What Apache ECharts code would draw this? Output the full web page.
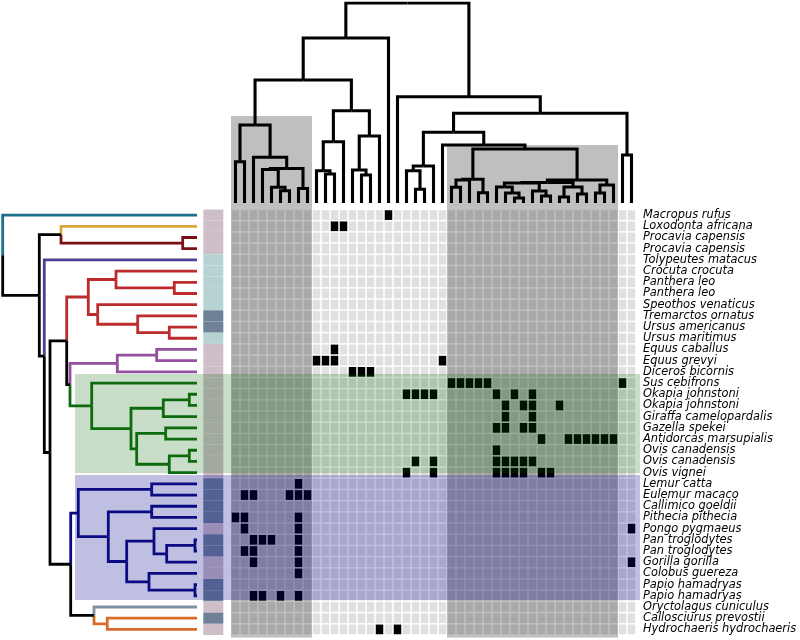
<!DOCTYPE html>
<html><head><meta charset="utf-8">
<script src="https://cdn.jsdelivr.net/npm/echarts@6/dist/echarts.min.js"></script>
<style>html,body{margin:0;padding:0;background:#fff}#c{width:800px;height:640px}</style>
</head><body><div id="c"></div>
<script>
// ---------------- DATA ----------------
const species = ["Macropus rufus","Loxodonta africana","Procavia capensis","Procavia capensis","Tolypeutes matacus","Crocuta crocuta","Panthera leo","Panthera leo","Speothos venaticus","Tremarctos ornatus","Ursus americanus","Ursus maritimus","Equus caballus","Equus grevyi","Diceros bicornis","Sus cebifrons","Okapia johnstoni","Okapia johnstoni","Giraffa camelopardalis","Gazella spekei","Antidorcas marsupialis","Ovis canadensis","Ovis canadensis","Ovis vignei","Lemur catta","Eulemur macaco","Callimico goeldii","Pithecia pithecia","Pongo pygmaeus","Pan troglodytes","Pan troglodytes","Gorilla gorilla","Colobus guereza","Papio hamadryas","Papio hamadryas","Oryctolagus cuniculus","Callosciurus prevostii","Hydrochaeris hydrochaeris"];
const traitCount = 45;
// columns (0-based) with value 1, per row
const presentCols = [
  [17],[11,12],[],[],[],[],[],[],[],[],[],[],
  [11],[9,10,11,23],[13,14,15],
  [24,25,26,27,28,43],[19,20,21,22,29,31,33],[30,32,33,36],[30,33],[29,30,32,33],
  [34,37,38,39,40,41,42],[29],[20,22,29,30,31,32,33],[19,22,29,30,31,32,34,35],
  [7],[1,2,6,7,8],[],[0,1,7],[1,7,44],[2,3,4,7],[1,2,7],[2,7,44],[7],[],[2,3,5,7],
  [],[],[16,18]
];
// side colour bar group per row: p / t / s
const rowBarGroup = ['p','p','p','p','t','t','t','t','t','s','s','t','p','p','p',
  'p','p','p','p','p','p','p','p','p','s','s','s','s','p','s','s','p','p','s','s','p','s','p'];
// dendrogram cluster per row (left tree colouring)
const rowCluster = [0,1,2,2,3,4,4,4,4,4,4,4,5,5,5,6,6,6,6,6,6,6,6,6,7,7,7,7,7,7,7,7,7,7,7,8,9,9];
// column dendrogram merges: [a, b, height]; numbers are leaves, 'mK' is merge K
const topMerges = [
  [5,6,12.3],[4,'m1',15.7],[7,8,14.5],[3,'m2',33.5],['m4','m3',34.5],[2,'m5',45.7],
  [0,1,41.3],['m7','m6',78],[10,11,29],[9,'m9',32.3],['m10',12,61.3],[14,15,28],
  [13,'m12',33],['m13',16,67],['m11','m14',92.3],['m8','m15',123],['m16',17,165],
  [20,21,13.7],[19,'m18',32.3],['m19',22,37],[24,25,15.7],['m21',26,23],[27,28,10.3],
  ['m22','m23',23.7],[31,32,5],[30,'m25',10],[29,'m26',16],[34,35,7],[33,'m28',12],
  ['m27','m29',20],[36,37,6],[38,39,9],['m31','m32',16],['m30','m33',20.5],[40,41,10],
  ['m35',42,18],['m34','m36',23],['m24','m37',54],[23,'m38',58],['m20','m39',70.7],
  [43,44,48],['m40','m41',89.7],[18,'m42',106.3],['m17','m43',200]
];
// row dendrogram merges
const leftMerges = [
  [2,3,14.3],[1,'m1',136],[6,7,22.7],[5,'m3',81],[10,11,27.7],[9,'m5',59.3],[8,'m6',99.3],
  ['m4','m7',108.7],[12,13,40.3],['m9',14,79.7],[16,17,7.7],['m11',18,33.7],[19,20,31.3],
  [21,22,7.7],['m14',23,27.7],['m13','m15',60.3],['m12','m16',66],[15,'m17',105.3],
  ['m10','m18',127],['m8','m19',130.3],[24,25,45.3],[26,27,45.3],[29,30,2],['m23',31,30.3],
  [28,'m24',43],[33,34,2],[32,'m26',48],['m25','m27',70.3],['m22','m28',88.7],
  ['m21','m29',118.7],[36,37,89.7],[35,'m31',103],['m30','m32',126.3],['m20','m33',147],
  [4,'m34',152.7],['m2','m35',157.7],[0,'m36',194.3]
];
// highlighted column groups: [firstCol, lastCol, boxTopHeight]
const grayBoxes = [[0,8,87],[24,42,58]];
// highlighted row bands (row-edge units): [top, bottom]
const bandRows = [[14.7,23.56],[23.71,34.88]];

// ---------------- STYLE ----------------
const clusterColors = ['#1d6f8e','#dba63a','#7a1014','#4d3f95','#bd2b2d','#944f9f','#0d6a0d','#0a0a82','#7f91a2','#d56c2a'];
const barColors = {p:'#cdbec7', t:'#b6d3d4', s:'#6f8196'};
const bandColors = ['rgba(0,100,0,0.21)','rgba(0,0,139,0.25)'];
const MAIN_TOP = 209.5, MAIN_H = 425.5, MAIN_BOTTOM = MAIN_TOP + MAIN_H;

// ---------------- BUILD ----------------
const cellData = [];
for (let r = 0; r < species.length; r++)
  for (let c = 0; c < traitCount; c++)
    cellData.push([c, r, presentCols[r].includes(c) ? 1 : 0]);

function buildSegments(merges, leafCluster, colors, leavesOnX) {
  const nodes = [];
  const ref = x => typeof x === 'number'
    ? {p: x, h: 0, c: leafCluster ? leafCluster[x] : -1}
    : nodes[+x.slice(1) - 1];
  const segs = [];
  merges.forEach(([a, b, H]) => {
    const A = ref(a), B = ref(b);
    const P = (A.p + B.p) / 2;
    [A, B].forEach(ch => {
      const color = ch.c >= 0 ? colors[ch.c] : '#000';
      const coords = leavesOnX
        ? [[ch.p, ch.h], [ch.p, H], [P, H]]
        : [[ch.h, ch.p], [H, ch.p], [H, P]];
      segs.push({coords, lineStyle: {color}});
    });
    nodes.push({p: P, h: H, c: A.c === B.c ? A.c : -1});
  });
  return segs;
}
const topSegs = buildSegments(topMerges, null, clusterColors, true);
const leftSegs = buildSegments(leftMerges, rowCluster, clusterColors, false);

const chart = echarts.init(document.getElementById('c'), null, {renderer: 'canvas', width: 800, height: 640});
chart.setOption({
  animation: false,
  backgroundColor: '#fff',
  grid: [
    {left: 231, top: MAIN_TOP, width: 405, height: MAIN_H},
    {left: 231, top: 3, width: 405, height: 200},
    {left: 2.7, top: MAIN_TOP, width: 194.3, height: MAIN_H}
  ],
  xAxis: [
    {gridIndex: 0, type: 'category', data: Array.from({length: traitCount}, (_, i) => 'T' + i), show: false},
    {gridIndex: 1, type: 'value', min: -0.5, max: traitCount - 0.5, show: false},
    {gridIndex: 2, type: 'value', min: 0, max: 194.3, inverse: true, show: false}
  ],
  yAxis: [
    {gridIndex: 0, type: 'category', data: species.map((_, i) => 'R' + i), inverse: true, position: 'right',
     axisLine: {show: false}, axisTick: {show: false}, splitLine: {show: false},
     axisLabel: {interval: 0, margin: 7, formatter: (v, i) => species[i], fontStyle: 'italic',
       fontFamily: 'DejaVu Sans', fontSize: 11.4, color: '#000'}},
    {gridIndex: 1, type: 'value', min: 0, max: 200, show: false},
    {gridIndex: 2, type: 'value', min: -0.5, max: species.length - 0.5, inverse: true, show: false}
  ],
  series: [
    {type: 'custom', xAxisIndex: 0, yAxisIndex: 0, z: 1, silent: true, clip: false,
     data: cellData,
     renderItem: (params, api) => {
       const p = api.coord([api.value(0), api.value(1)]);
       const s = api.size([1, 1]);
       return {type: 'rect', shape: {x: p[0] - s[0] / 2 + 0.75, y: p[1] - s[1] / 2 + 0.75, width: s[0] - 1.5, height: s[1] - 1.5},
         style: {fill: api.value(2) ? '#000' : '#e0e0e0'}};
     }},
    {type: 'custom', xAxisIndex: 0, yAxisIndex: 0, z: 1, silent: true, clip: false,
     data: species.map((_, r) => [0, r]),
     renderItem: (params, api) => {
       const r = api.value(1);
       const p = api.coord([0, r]);
       const s = api.size([1, 1]);
       return {type: 'rect', shape: {x: 203.3, y: p[1] - s[1] / 2, width: 20, height: s[1]},
         style: {fill: barColors[rowBarGroup[r]]}};
     }},
    {type: 'custom', xAxisIndex: 1, yAxisIndex: 1, z: 2, silent: true, clip: false,
     data: grayBoxes.map(b => [b[0], b[2], b[1]]),
     encode: {x: [0, 2], y: 1},
     renderItem: (params, api) => {
       const p0 = api.coord([api.value(0) - 0.5, api.value(1)]);
       const p1 = api.coord([api.value(2) + 0.5, 0]);
       return {type: 'rect', shape: {x: p0[0], y: p0[1], width: p1[0] - p0[0], height: MAIN_BOTTOM + 2.5 - p0[1]},
         style: {fill: 'rgba(0,0,0,0.25)'}};
     }},
    {type: 'custom', xAxisIndex: 2, yAxisIndex: 2, z: 3, silent: true, clip: false,
     data: bandRows.map((b, i) => [0, b[0], b[1], i]),
     encode: {x: 0, y: [1, 2]},
     renderItem: (params, api) => {
       const y0 = api.coord([0, api.value(1) - 0.5])[1];
       const y1 = api.coord([0, api.value(2) - 0.5])[1];
       return {type: 'rect', shape: {x: 75, y: y0, width: 640 - 75, height: y1 - y0},
         style: {fill: bandColors[api.value(3)]}};
     }},
    {type: 'lines', coordinateSystem: 'cartesian2d', xAxisIndex: 1, yAxisIndex: 1, polyline: true, z: 5, silent: true,
     lineStyle: {width: 3.1, color: '#000', opacity: 1, join: 'miter', cap: 'butt'},
     data: topSegs},
    {type: 'lines', coordinateSystem: 'cartesian2d', xAxisIndex: 2, yAxisIndex: 2, polyline: true, z: 5, silent: true,
     lineStyle: {width: 2.8, color: '#000', opacity: 1, join: 'miter', cap: 'butt'},
     data: leftSegs}
  ]
});
</script></body></html>
